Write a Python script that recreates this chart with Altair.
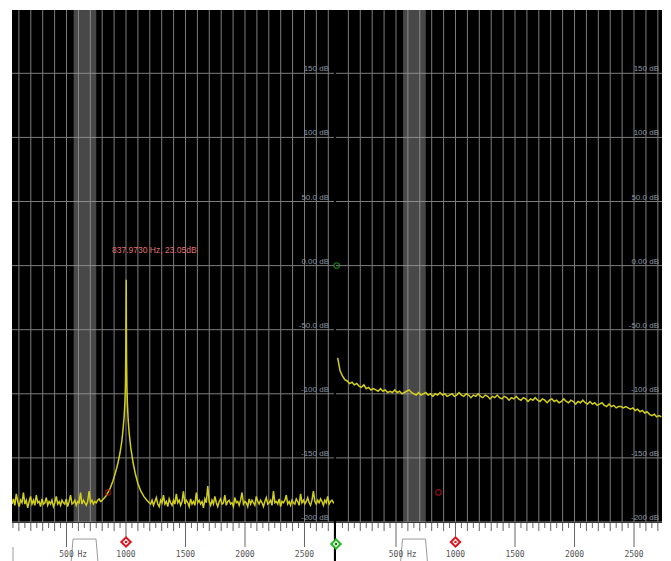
import altair as alt
import pandas as pd

# ---------------- data ----------------
# Left spectrum: noise floor before the peak (FFT bins from 42 Hz, every 12 Hz)
LEFT_A_START, LEFT_A_STEP = 42, 12
LEFT_A_DB = [-186, -182, -187, -178, -184, -188, -183, -185, -177, -186,
             -183, -189, -184, -180, -186, -183, -187, -179, -185, -184,
             -188, -182, -186, -185, -181, -187, -184, -186, -183, -188,
             -185, -180, -186, -184, -187, -183, -185, -186, -182, -188,
             -184, -179, -186, -185, -183, -187, -184, -185, -177, -186,
             -183, -185, -187, -184, -176, -185, -183, -186, -184, -185,
             -183, -182, -184]
# Left spectrum: the resonance peak
LEFT_PEAK_F = [790, 810, 830, 849, 870, 890, 910, 930, 950, 965, 975, 985, 992,
               996, 998, 1000, 1002, 1003, 1005, 1008, 1012, 1018, 1027, 1040,
               1060, 1080, 1100, 1125, 1150, 1175, 1195]
LEFT_PEAK_DB = [-184, -182, -180, -177, -173, -168, -162, -155, -146, -137, -128,
                -117, -104, -90, -70, -40, -11, -45, -75, -95, -108, -120, -131,
                -142, -154, -163, -170, -176, -180, -183, -185]
# Left spectrum: noise floor after the peak (bins from 1207 Hz, every 12 Hz)
LEFT_B_START, LEFT_B_STEP = 1207, 12
LEFT_B_DB = [-186, -183, -187, -184, -181, -186, -188, -183, -185, -179, -186, -184, -188, -182, -185, -187, -183, -186, -178, -185,
             -183, -187, -184, -176, -186, -183, -185, -188, -182, -186, -184, -187, -177, -185, -183, -186, -184, -189, -182, -185,
             -172, -184, -187, -183, -186, -180, -185, -188, -184, -182, -186, -185, -179, -187, -184, -183, -186, -185, -188, -181,
             -185, -184, -187, -183, -177, -186, -184, -185, -188, -182, -186, -183, -185, -187, -180, -184, -186, -183, -185, -188,
             -184, -181, -186, -185, -183, -187, -176, -185, -184, -186, -182, -188, -184, -185, -183, -179, -186, -184, -187, -183,
             -185, -186, -182, -184, -187, -178, -185, -183, -186, -184, -181, -185, -187, -183, -176, -184, -186, -183, -185, -182,
             -184, -187, -183, -185, -180, -186, -184, -183, -185, -184]
# Right spectrum (bins from 10 Hz, every 20 Hz)
RIGHT_START, RIGHT_STEP = 10, 20
RIGHT_DB = [-72, -82, -86, -89, -90, -92, -91, -93, -92, -94,
            -95, -93, -96, -95, -97, -96, -97, -98, -96, -98,
            -97, -99, -98, -99, -97, -99, -98, -100, -99, -98,
            -97, -99, -100, -101, -99, -101, -100, -99, -101, -100,
            -102, -100, -101, -99, -101, -100, -102, -101, -100, -102,
            -101, -99, -101, -102, -100, -101, -103, -101, -102, -100,
            -102, -103, -101, -102, -104, -102, -103, -101, -103, -104,
            -102, -103, -105, -103, -104, -102, -104, -105, -103, -104,
            -106, -104, -105, -103, -105, -106, -104, -105, -107, -105,
            -104, -106, -105, -107, -106, -104, -106, -107, -105, -106,
            -108, -106, -107, -105, -107, -108, -106, -108, -107, -109,
            -108, -107, -109, -110, -108, -110, -109, -111, -110, -110,
            -111, -110, -111, -112, -111, -113, -112, -114, -113, -115,
            -114, -116, -117, -116, -118, -117, -118]

# markers
LEFT_MARK_F, LEFT_MARK_DB = [849], [-177]
RIGHT_MARK_F, RIGHT_MARK_DB = [857], [-177]
GREEN_MARK_F, GREEN_MARK_DB = [2], [0]
ANNOT_F, ANNOT_DB, ANNOT_TEXT = [882], [12.2], ["837.9730 Hz, 23.05dB"]

# grid / axes
GRID_F = list(range(100, 2800, 100))
GRID_DB = [150, 100, 50, 0, -50, -100, -150, -200]
DB_LABELS = ["150 dB", "100 dB", "50.0 dB", "0.00 dB", "-50.0 dB", "-100 dB", "-150 dB", "-200 dB"]
RULER_MAJOR = [500, 1000, 1500, 2000, 2500]
RULER_LABELS = ["500", "1000", "1500", "2000", "2500"]
DIAMOND_F = [1000]
BAND_F = [560, 750]
FILTER_F = [538, 555, 748, 765]
FILTER_DB = [-232, -213.3, -213.3, -232]

LEFT_XDOM = [42, 2748]
RIGHT_XDOM = [-4, 2735]
Y_DOMAIN = [-232, 199.4]
H = 553
PLOT_BOTTOM = 512


def bins(start, step, values):
    return pd.DataFrame({"f": [start + step * i for i in range(len(values))], "db": values})


left_trace = pd.concat([
    bins(LEFT_A_START, LEFT_A_STEP, LEFT_A_DB),
    pd.DataFrame({"f": LEFT_PEAK_F, "db": LEFT_PEAK_DB}),
    bins(LEFT_B_START, LEFT_B_STEP, LEFT_B_DB),
], ignore_index=True)
right_trace = bins(RIGHT_START, RIGHT_STEP, RIGHT_DB)


def ruler_ticks(lo, hi):
    minor, mid = [], []
    f = lo
    while f <= hi:
        if f % 500 == 0:
            pass
        elif f % 100 == 0:
            mid.append(f)
        else:
            minor.append(f)
        f += 50
    return minor, mid


def panel(width, xdom, trace, red_f, red_db, tick_lo, extra=None, divider=False, green=False):
    xs = alt.Scale(domain=xdom, nice=False, zero=False)
    ys = alt.Scale(domain=Y_DOMAIN, nice=False, zero=False)

    def X(field="f"):
        return alt.X(f"{field}:Q", scale=xs, axis=None)

    def Y(field="db"):
        return alt.Y(f"{field}:Q", scale=ys, axis=None)

    layers = []
    layers.append(alt.Chart(pd.DataFrame({"f": GRID_F})).mark_rule(color="#7c7c7c", strokeWidth=1)
                  .encode(x=X(), y=alt.value(0), y2=alt.value(PLOT_BOTTOM)))
    layers.append(alt.Chart(pd.DataFrame({"db": GRID_DB})).mark_rule(color="#7c7c7c", strokeWidth=1)
                  .encode(y=Y(), x=alt.value(0), x2=alt.value(width)))
    layers.append(alt.Chart(pd.DataFrame({"f": [BAND_F[0]], "f2": [BAND_F[1]]}))
                  .mark_rect(color="#a0a0a0", opacity=0.45)
                  .encode(x=X(), x2="f2:Q", y=alt.value(0), y2=alt.value(PLOT_BOTTOM)))
    layers.append(alt.Chart(trace).mark_line(color="#d2cf1c", strokeWidth=1.5, clip=True)
                  .encode(x=X(), y=Y()))
    layers.append(alt.Chart(pd.DataFrame({"f": red_f, "db": red_db}))
                  .mark_point(shape="circle", filled=False, color="#b01515", size=30, strokeWidth=1.3)
                  .encode(x=X(), y=Y()))
    if green:
        layers.append(alt.Chart(pd.DataFrame({"f": GREEN_MARK_F, "db": GREEN_MARK_DB}))
                      .mark_point(shape="circle", filled=False, color="#1fa01f", size=30, strokeWidth=1.3)
                      .encode(x=X(), y=Y()))
    inset = 5 if divider else 3
    layers.append(alt.Chart(pd.DataFrame({"db": GRID_DB, "label": DB_LABELS}))
                  .mark_text(align="right", baseline="bottom", fontSize=8, color="#8a96a2", font="Liberation Sans")
                  .encode(y=Y(), x=alt.value(width - inset), text="label:N"))
    if extra is not None:
        layers.extend(extra(X, Y))
    # ruler
    layers.append(alt.Chart(pd.DataFrame({"f": [0]})).mark_rect(color="white")
                  .encode(x=alt.value(0), x2=alt.value(width), y=alt.value(PLOT_BOTTOM + 1), y2=alt.value(H)))
    minor, mid = ruler_ticks(tick_lo, 2700)
    layers.append(alt.Chart(pd.DataFrame({"f": minor})).mark_rule(color="#666666", strokeWidth=1)
                  .encode(x=X(), y=alt.value(PLOT_BOTTOM + 1), y2=alt.value(PLOT_BOTTOM + 6)))
    layers.append(alt.Chart(pd.DataFrame({"f": mid})).mark_rule(color="#666666", strokeWidth=1)
                  .encode(x=X(), y=alt.value(PLOT_BOTTOM + 1), y2=alt.value(PLOT_BOTTOM + 9)))
    layers.append(alt.Chart(pd.DataFrame({"f": RULER_MAJOR})).mark_rule(color="#666666", strokeWidth=1)
                  .encode(x=X(), y=alt.value(PLOT_BOTTOM + 1), y2=alt.value(PLOT_BOTTOM + 25)))
    layers.append(alt.Chart(pd.DataFrame({"f": FILTER_F, "db": FILTER_DB}))
                  .mark_line(color="#9a9a9a", strokeWidth=1)
                  .encode(x=X(), y=Y()))
    layers.append(alt.Chart(pd.DataFrame({"f": RULER_MAJOR, "label": RULER_LABELS}))
                  .mark_text(align="center", baseline="middle", fontSize=8, color="#555555", font="DejaVu Sans Mono")
                  .encode(x=X(), y=alt.value(H - 8), text="label:N"))
    layers.append(alt.Chart(pd.DataFrame({"f": [500], "label": ["Hz"]}))
                  .mark_text(align="left", baseline="middle", dx=11, fontSize=8, color="#555555", font="DejaVu Sans Mono")
                  .encode(x=X(), y=alt.value(H - 8), text="label:N"))
    dia = pd.DataFrame({"f": DIAMOND_F})
    layers.append(alt.Chart(dia).mark_point(shape="diamond", filled=True, color="#e0141c", size=150, opacity=1)
                  .encode(x=X(), y=alt.value(PLOT_BOTTOM + 20)))
    layers.append(alt.Chart(dia).mark_point(shape="diamond", filled=True, color="white", size=40, opacity=1)
                  .encode(x=X(), y=alt.value(PLOT_BOTTOM + 20)))
    layers.append(alt.Chart(dia).mark_point(shape="square", filled=True, color="#e0141c", size=5, opacity=1)
                  .encode(x=X(), y=alt.value(PLOT_BOTTOM + 20)))
    if divider:
        layers.append(alt.Chart(pd.DataFrame({"f": [0]})).mark_rule(color="black", strokeWidth=2.2)
                      .encode(x=alt.value(width + 1), y=alt.value(0), y2=alt.value(H)))
        layers.append(alt.Chart(pd.DataFrame({"f": [0]})).mark_rule(color="#9a9a9a", strokeWidth=1)
                      .encode(x=alt.value(1), y=alt.value(PLOT_BOTTOM + 25), y2=alt.value(H)))
    if green:
        gd = pd.DataFrame({"f": [RIGHT_XDOM[0]]})
        layers.append(alt.Chart(gd).mark_point(shape="diamond", filled=True, color="#22b822", size=150, opacity=1)
                      .encode(x=X(), y=alt.value(PLOT_BOTTOM + 22)))
        layers.append(alt.Chart(gd).mark_point(shape="diamond", filled=True, color="white", size=40, opacity=1)
                      .encode(x=X(), y=alt.value(PLOT_BOTTOM + 22)))
        layers.append(alt.Chart(gd).mark_point(shape="square", filled=True, color="#137013", size=5, opacity=1)
                      .encode(x=X(), y=alt.value(PLOT_BOTTOM + 22)))
    return alt.layer(*layers).properties(width=width, height=H)


def left_extra(X, Y):
    return [alt.Chart(pd.DataFrame({"f": ANNOT_F, "db": ANNOT_DB, "t": ANNOT_TEXT}))
            .mark_text(align="left", baseline="middle", fontSize=8.5, color="#e07070", font="Liberation Sans")
            .encode(x=X(), y=Y(), text="t:N")]


left = panel(322, LEFT_XDOM, left_trace, LEFT_MARK_F, LEFT_MARK_DB, 50, extra=left_extra, divider=True)
right = panel(326, RIGHT_XDOM, right_trace, RIGHT_MARK_F, RIGHT_MARK_DB, 0, green=True)

chart = (alt.hconcat(left, right, spacing=2, bounds="flush")
         .properties(padding={"left": 3, "top": 0, "right": 0, "bottom": 0}, background="white")
         .configure_view(fill="black", stroke=None))

chart.save("out.html", embed_options={"renderer": "svg", "actions": False})
